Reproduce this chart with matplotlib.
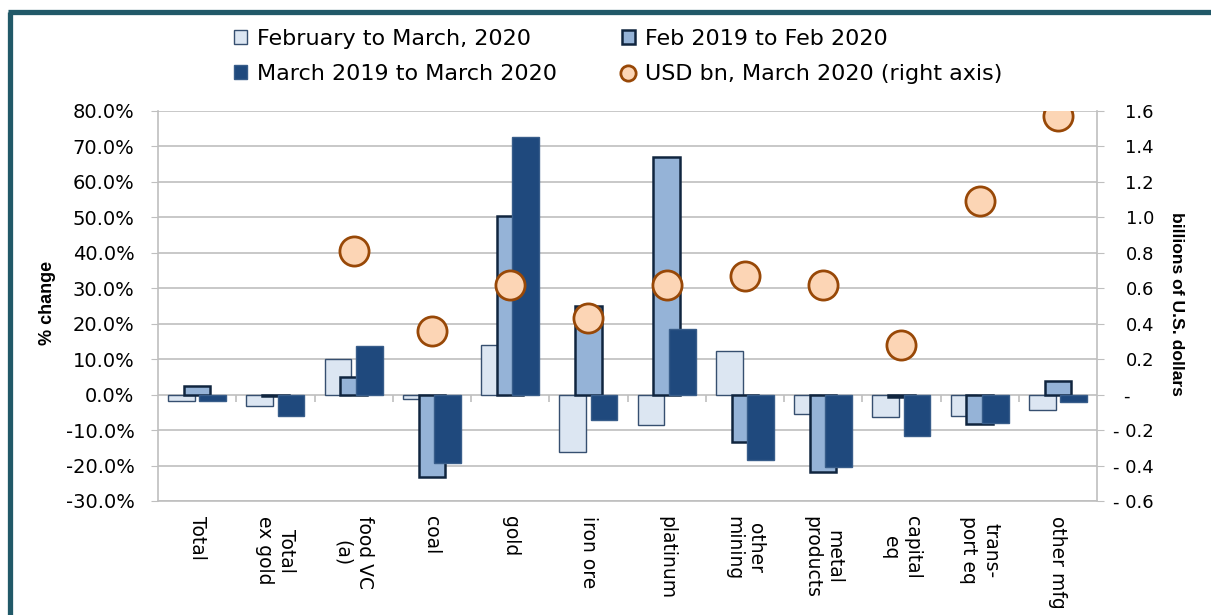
import numpy as np
import matplotlib.pyplot as plt
from matplotlib.lines import Line2D
from matplotlib.ticker import FixedLocator

categories = ['Total', 'Total\nex gold', 'food VC\n(a)', 'coal', 'gold', 'iron ore',
              'platinum', 'other\nmining', 'metal\nproducts', 'capital\neq',
              'trans-\nport eq', 'other mfg']

feb_to_mar_2020 = [-1.8, -3.2, 10.0, -1.2, 13.9, -16.1, -8.7, 12.3, -5.5, -6.4, -5.9, -4.3]
feb19_to_feb20 = [2.5, -0.3, 4.9, -23.3, 50.5, 25.1, 66.9, -13.3, -21.7, -0.6, -8.2, 3.9]
mar19_to_mar20 = [-1.8, -5.9, 13.8, -19.2, 72.8, -7.1, 18.6, -18.3, -20.5, -11.8, -7.9, -2.0]
usd_bn_mar2020 = [np.nan, np.nan, 0.81, 0.36, 0.62, 0.43, 0.62, 0.67, 0.62, 0.28, 1.09, 1.57]

left_ticks = np.arange(-30, 81, 10)
right_ticks = np.round(np.arange(-0.6, 1.61, 0.2), 1)

light = '#dce6f2'
medium = '#95b3d7'
dark = '#1f497d'
grid_c = '#bfbfbf'

fig = plt.figure(figsize=(12.11, 6.15), dpi=100)
ax = fig.add_axes([158 / 1211, 1 - 501 / 615, 939 / 1211, 390 / 615])
x = np.arange(len(categories))
w = 0.34
off = 0.2

ax.bar(x - off, feb_to_mar_2020, w, color=light, edgecolor='#364f70', linewidth=1.0, zorder=3,
       label='February to March, 2020')
ax.bar(x, feb19_to_feb20, w, color=medium, edgecolor='#10253f', linewidth=1.8, zorder=4,
       label='Feb 2019 to Feb 2020')
ax.bar(x + off, mar19_to_mar20, w, color=dark, edgecolor='#385d8a', linewidth=1.0, zorder=5,
       label='March 2019 to March 2020')

ax.set_xlim(-0.5, len(categories) - 0.5)
ax.set_ylim(-30, 80)
ax.set_yticks(left_ticks)
ax.set_yticklabels([f'{v:.1f}%' for v in left_ticks], fontsize=14)
ax.yaxis.grid(True, color=grid_c, linewidth=1.2, zorder=0)
ax.set_axisbelow(True)
ax.tick_params(axis='y', direction='out', length=5, color=grid_c, pad=12)
ax.set_xticks(x)
ax.set_xticklabels(categories, rotation=-90, fontsize=13.5, va='top', ha='center')
ax.tick_params(axis='x', length=0, pad=11)
ax.spines['top'].set_visible(False)
for s in ['left', 'right', 'bottom']:
    ax.spines[s].set_color(grid_c)
    ax.spines[s].set_linewidth(1.2)

# tick marks between categories on the zero line
zero_pos = (0 - (-30)) / (80 - (-30))
sec = ax.secondary_xaxis(zero_pos)
sec.xaxis.set_major_locator(FixedLocator(np.arange(0.5, len(categories) - 1, 1.0)))
sec.tick_params(axis='x', direction='out', length=5, color=grid_c, width=1.2, labelbottom=False)
sec.set_xticklabels([])
for s in sec.spines.values():
    s.set_visible(False)

ax2 = ax.twinx()
ax2.plot(x, usd_bn_mar2020, linestyle='none', marker='o', markersize=21,
         markerfacecolor='#fcd5b5', markeredgecolor='#984807', markeredgewidth=2, zorder=6,
         label='USD bn, March 2020 (right axis)')
ax2.set_ylim(-0.6, 1.6)
ax2.set_yticks(right_ticks)
rlabels = []
for v in right_ticks:
    if abs(v) < 1e-9:
        rlabels.append('-\u2007\u2007')
    elif v < 0:
        rlabels.append(f'- {abs(v):.1f}')
    else:
        rlabels.append(f'{v:.1f}')
ax2.set_yticklabels(rlabels, fontsize=13)
for t in ax2.get_yticklabels():
    t.set_ha('right')
ax2.tick_params(axis='y', direction='out', length=5, color=grid_c, pad=36)
for s in ax2.spines.values():
    s.set_visible(False)

fig.text(48 / 1211, 1 - 303 / 615, '% change', rotation=90, ha='center', va='center',
         fontsize=13, fontweight='bold', family='Liberation Sans')
fig.text(1177 / 1211, 1 - 304 / 615, 'billions of U.S. dollars', rotation=-90, ha='center',
         va='center', fontsize=12.6, fontweight='bold', family='Liberation Sans')

h1, l1 = ax.get_legend_handles_labels()
h2, l2 = ax2.get_legend_handles_labels()
circle = Line2D([], [], linestyle='none', marker='o', markersize=11, markerfacecolor='#fcd5b5',
                markeredgecolor='#984807', markeredgewidth=2)
handles = [h1[0], h1[2], h1[1], circle]
labels = [l1[0], l1[2], l1[1], l2[0]]
fig.legend(handles, labels, loc='upper left', bbox_to_anchor=(234 / 1211, 1 - 29 / 615),
           ncol=2, frameon=False, fontsize=16, handlelength=0.6, handleheight=0.6,
           handletextpad=0.45, columnspacing=2.9, labelspacing=0.68, borderpad=0,
           borderaxespad=0)

# outer frame (left and top edges)
frame_c = '#215968'
fig.add_artist(Line2D([9.5 / 1211, 9.5 / 1211], [0, 1 - 11.5 / 615], color=frame_c, lw=3.8,
                      solid_capstyle='butt'))
fig.add_artist(Line2D([7.6 / 1211, 1], [1 - 11.5 / 615, 1 - 11.5 / 615], color=frame_c, lw=3.8,
                      solid_capstyle='butt'))

plt.savefig('out.png', dpi=100)
plt.close()
